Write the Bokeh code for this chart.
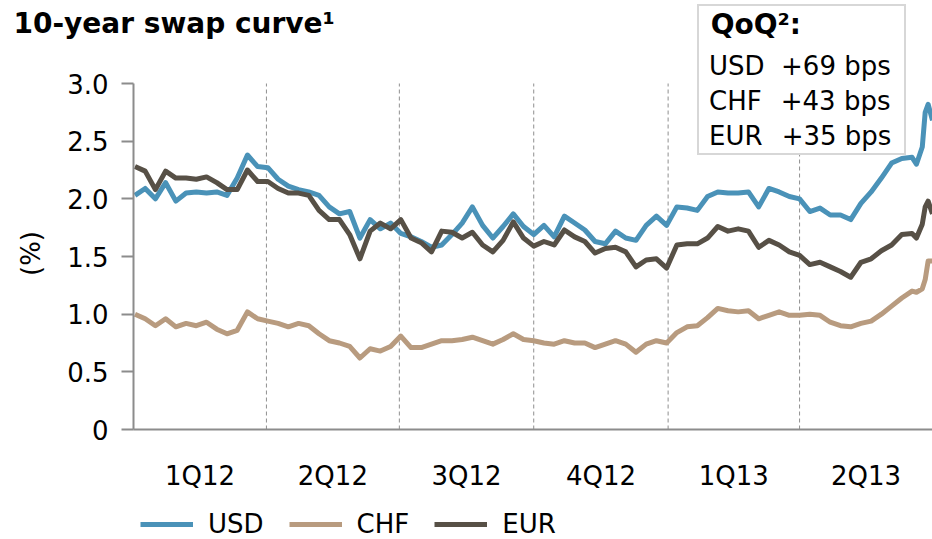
import math
import pandas as pd
from bokeh.plotting import figure
from bokeh.models import (Range1d, FixedTicker, Legend, LegendItem, Label,
                          CustomJSTickFormatter)
from bokeh.embed import file_html
from bokeh.resources import INLINE

# ---------------- data ----------------
weekly_start = "2012-01-02"
n_weekly = 77
extra_dates = ["2013-06-20", "2013-06-24", "2013-06-26", "2013-06-28", "2013-07-01"]

usd = [2.03, 2.09, 2.00, 2.14, 1.98, 2.05, 2.06, 2.05, 2.06, 2.03,
       2.18, 2.38, 2.28, 2.27, 2.17, 2.11, 2.08, 2.06, 2.03, 1.93,
       1.87, 1.89, 1.66, 1.82, 1.74, 1.79, 1.70, 1.67, 1.63, 1.58,
       1.60, 1.69, 1.79, 1.93, 1.77, 1.66, 1.76, 1.87, 1.76, 1.69,
       1.77, 1.67, 1.85, 1.79, 1.73, 1.63, 1.61, 1.72, 1.66, 1.64,
       1.77, 1.85, 1.77, 1.93, 1.92, 1.90, 2.02, 2.06, 2.05,
       2.05, 2.06, 1.93, 2.09, 2.06, 2.02, 2.00, 1.89, 1.92, 1.86,
       1.86, 1.82, 1.96, 2.06, 2.18, 2.31, 2.35, 2.36,
       2.30, 2.45, 2.75, 2.82, 2.68]

chf = [1.00, 0.96, 0.90, 0.96, 0.89, 0.92, 0.90, 0.93, 0.87, 0.83,
       0.86, 1.02, 0.96, 0.94, 0.92, 0.89, 0.92, 0.90, 0.83, 0.77,
       0.75, 0.72, 0.62, 0.70, 0.68, 0.72, 0.81, 0.71, 0.71, 0.74,
       0.77, 0.77, 0.78, 0.80, 0.77, 0.74, 0.78, 0.83, 0.78, 0.77,
       0.75, 0.74, 0.77, 0.75, 0.75, 0.71, 0.74, 0.77, 0.74, 0.67,
       0.74, 0.77, 0.75, 0.84, 0.89, 0.90, 0.97, 1.05, 1.03,
       1.02, 1.03, 0.96, 0.99, 1.02, 0.99, 0.99, 1.00, 0.99, 0.93,
       0.90, 0.89, 0.92, 0.94, 1.00, 1.07, 1.14, 1.20,
       1.19, 1.22, 1.30, 1.46, 1.46]

eur = [2.28, 2.24, 2.08, 2.24, 2.18, 2.18, 2.17, 2.19, 2.14, 2.08,
       2.08, 2.25, 2.15, 2.15, 2.09, 2.05, 2.05, 2.03, 1.90, 1.82,
       1.82, 1.69, 1.48, 1.72, 1.79, 1.74, 1.82, 1.66, 1.62, 1.54,
       1.72, 1.71, 1.66, 1.71, 1.60, 1.54, 1.64, 1.80, 1.66, 1.59,
       1.63, 1.60, 1.73, 1.67, 1.63, 1.53, 1.57, 1.58, 1.54, 1.41,
       1.47, 1.48, 1.40, 1.60, 1.61, 1.61, 1.66, 1.76, 1.72,
       1.74, 1.72, 1.58, 1.64, 1.60, 1.54, 1.51, 1.43, 1.45, 1.41,
       1.37, 1.32, 1.45, 1.48, 1.55, 1.60, 1.69, 1.70,
       1.66, 1.78, 1.93, 1.98, 1.87]

quarter_starts = ["2012-01-01", "2012-04-01", "2012-07-01", "2012-10-01",
                  "2013-01-01", "2013-04-01", "2013-07-01"]
quarter_labels = ["1Q12", "2Q12", "3Q12", "4Q12", "1Q13", "2Q13"]
y_ticks = [0, 0.5, 1.0, 1.5, 2.0, 2.5, 3.0]

series_names = ["USD", "CHF", "EUR"]
qoq_values = ["+69 bps", "+43 bps", "+35 bps"]
chart_title = "10-year swap curve\u00b9"
box_title = "QoQ\u00b2:"
y_label = "(%)"

# ---------------- layout geometry (pixels) ----------------
# The plot frame fills the whole canvas; the data area starts at AXIS_X_PX.
W, H = 932, 539
AXIS_X_PX = 133                   # pixel column of the y axis (first day)
Y0_PX, YTOP_PX = 429, 83          # pixel rows of y=0 and y=3.0

FONT = "DejaVu Sans"
C_USD = "#4A92B8"
C_CHF = "#B89B7F"
C_EUR = "#575046"
GRAY = "#8c8c8c"

dates = list(pd.date_range(weekly_start, periods=n_weekly, freq="7D")) + \
        [pd.Timestamp(d) for d in extra_dates]

def ms(s):
    return int(pd.Timestamp(s).value // 10**6)

x_start, x_end = ms(quarter_starts[0]), ms(quarter_starts[-1])
msp = (x_end - x_start) / (W - AXIS_X_PX)                 # ms per pixel
ppu = (Y0_PX - YTOP_PX) / (y_ticks[-1] - y_ticks[0])     # pixels per %-point

p = figure(width=W, height=H, x_axis_type="datetime",
           output_backend="svg", toolbar_location=None,
           x_range=Range1d(start=x_start - AXIS_X_PX * msp, end=x_end),
           y_range=Range1d(start=y_ticks[0] - (H - Y0_PX) / ppu,
                           end=y_ticks[-1] + YTOP_PX / ppu),
           min_border_left=0, min_border_right=0,
           min_border_top=0, min_border_bottom=0)

p.background_fill_color = "white"
p.border_fill_color = "white"
p.outline_line_color = None
p.xgrid.visible = False
p.ygrid.visible = False

# quarter separators (dashed, spanning the y-axis domain)
seps = [ms(q) for q in quarter_starts[1:-1]]
p.segment(x0=seps, y0=[y_ticks[0]] * len(seps), x1=seps, y1=[y_ticks[-1]] * len(seps),
          line_color="#8f8f8f", line_width=1, line_dash="4 3")

r_usd = p.line(dates, usd, line_color=C_USD, line_width=5, line_join="round")
r_chf = p.line(dates, chf, line_color=C_CHF, line_width=5, line_join="round")
r_eur = p.line(dates, eur, line_color=C_EUR, line_width=5, line_join="round")

# x axis (fixed at y = 0)
xax = p.below[0]
mids = [(ms(a) + ms(b)) // 2 for a, b in zip(quarter_starts[:-1], quarter_starts[1:])]
xax.fixed_location = y_ticks[0]
xax.bounds = (x_start, x_end)
xax.ticker = FixedTicker(ticks=mids)
xax.major_label_overrides = {m: lab for m, lab in zip(mids, quarter_labels)}
xax.axis_line_color = GRAY
xax.axis_line_width = 2
xax.major_tick_line_color = None
xax.minor_tick_line_color = None
xax.major_tick_out = 0
xax.major_tick_in = 0
xax.major_label_standoff = 31
xax.major_label_text_font = FONT
xax.major_label_text_font_size = "26px"
xax.major_label_text_color = "black"

# y axis (fixed at the first day)
yax = p.left[0]
yax.fixed_location = x_start
yax.bounds = (y_ticks[0], y_ticks[-1])
yax.ticker = FixedTicker(ticks=y_ticks)
yax.formatter = CustomJSTickFormatter(code="return tick == 0 ? '0' : tick.toFixed(1);")
yax.axis_line_color = GRAY
yax.axis_line_width = 2
yax.major_tick_line_color = GRAY
yax.major_tick_line_width = 2
yax.major_tick_out = 12
yax.major_tick_in = 0
yax.minor_tick_line_color = None
yax.major_label_standoff = 13
yax.major_label_text_font = FONT
yax.major_label_text_font_size = "26px"
yax.major_label_text_color = "black"

# y-axis title
p.add_layout(Label(x=30, y=H - 253, x_units="screen", y_units="screen",
                   text=y_label, angle=math.pi / 2, text_align="center",
                   text_baseline="middle", text_font=FONT, text_font_size="26px",
                   text_color="black"))

# chart title
p.add_layout(Label(x=13, y=H - 23, x_units="screen", y_units="screen",
                   text=chart_title, text_align="left", text_baseline="alphabetic",
                   text_font=FONT, text_font_size="28px", text_font_style="bold",
                   text_color="black"))

# bottom legend
legend = Legend(items=[LegendItem(label=series_names[0], renderers=[r_usd]),
                       LegendItem(label=series_names[1], renderers=[r_chf]),
                       LegendItem(label=series_names[2], renderers=[r_eur])],
                orientation="horizontal", location=(140, 0),
                glyph_width=53, glyph_height=30, label_height=30,
                label_standoff=15, spacing=25,
                padding=0, margin=0, border_line_color=None,
                background_fill_alpha=0,
                label_text_font=FONT, label_text_font_size="26px",
                label_text_color="black")
p.add_layout(legend, "center")

# QoQ box (legend without glyphs)
gaps = ["  ", "  \u200a", "  \u200a"]
box_items = []
for name, val, gap in zip(series_names, qoq_values, gaps):
    dummy = p.line(x=[], y=[], line_alpha=0)
    box_items.append(LegendItem(label=name + gap + val, renderers=[dummy]))
qoq = Legend(items=box_items, orientation="vertical", location=(697, H - 155),
             title="\u00a0" + box_title, title_text_font=FONT, title_text_font_size="28px",
             title_text_font_style="bold", title_text_color="black",
             title_standoff=10,
             glyph_width=0, glyph_height=28, label_height=28, label_width=193,
             label_standoff=8, spacing=5, padding=2, margin=0,
             border_line_color="#b0b0b0", border_line_width=2,
             background_fill_color="white", background_fill_alpha=1.0,
             label_text_font=FONT, label_text_font_size="26px",
             label_text_color="black")
p.add_layout(qoq, "center")

open("out.html", "w").write(file_html(p, INLINE))
